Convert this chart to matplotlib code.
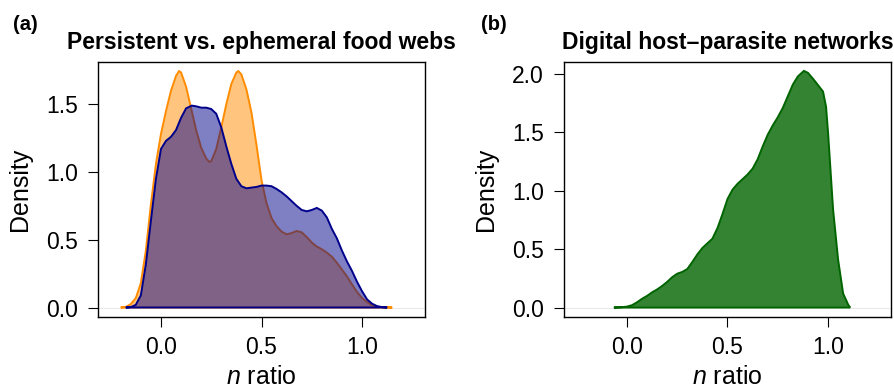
import numpy as np
import matplotlib
matplotlib.use("Agg")
import matplotlib.pyplot as plt
import matplotlib.colors as mcolors

plt.rcParams['font.family'] = ['Liberation Sans', 'DejaVu Sans']
plt.rcParams['mathtext.fontset'] = 'custom'
plt.rcParams['mathtext.it'] = 'Liberation Sans:italic'
plt.rcParams['mathtext.rm'] = 'Liberation Sans'

# ==========================================
# DATA
# ==========================================
# (a) two overlaid densities
A_X = [-0.20, -0.175, -0.15, -0.125, -0.10, -0.075, -0.05, -0.025, 0.0, 0.025,
       0.05, 0.075, 0.09, 0.10, 0.125, 0.15, 0.175, 0.20, 0.225, 0.24,
       0.25, 0.275, 0.30, 0.325, 0.35, 0.375, 0.385, 0.40, 0.425, 0.45,
       0.475, 0.50, 0.525, 0.55, 0.575, 0.60, 0.625, 0.65, 0.675, 0.70,
       0.725, 0.75, 0.775, 0.80, 0.825, 0.85, 0.875, 0.90, 0.925, 0.95,
       0.975, 1.00, 1.025, 1.05, 1.075, 1.10, 1.125, 1.15]
ORANGE_Y = [0.0, 0.004, 0.025, 0.07, 0.18, 0.42, 0.76, 1.06, 1.28, 1.45,
            1.60, 1.71, 1.745, 1.735, 1.63, 1.47, 1.31, 1.18, 1.10, 1.075,
            1.08, 1.17, 1.33, 1.50, 1.65, 1.735, 1.745, 1.72, 1.61, 1.44,
            1.20, 0.94, 0.77, 0.66, 0.60, 0.56, 0.54, 0.55, 0.565, 0.555,
            0.52, 0.48, 0.45, 0.43, 0.405, 0.375, 0.33, 0.28, 0.23, 0.17,
            0.115, 0.07, 0.04, 0.016, 0.006, 0.002, 0.001, 0.0]

B_X = [-0.175, -0.15, -0.125, -0.10, -0.075, -0.05, -0.025, 0.0, 0.025, 0.05,
       0.075, 0.10, 0.125, 0.153, 0.175, 0.20, 0.225, 0.25, 0.275, 0.30,
       0.325, 0.35, 0.375, 0.40, 0.425, 0.45, 0.475, 0.50, 0.525, 0.55,
       0.575, 0.60, 0.625, 0.65, 0.675, 0.70, 0.725, 0.75, 0.775, 0.80,
       0.825, 0.85, 0.875, 0.90, 0.925, 0.95, 0.975, 1.00, 1.025, 1.05,
       1.075, 1.10, 1.125]
BLUE_Y = [0.0, 0.003, 0.02, 0.09, 0.32, 0.64, 0.95, 1.17, 1.23, 1.26,
          1.31, 1.40, 1.47, 1.49, 1.485, 1.475, 1.475, 1.465, 1.43, 1.33,
          1.19, 1.06, 0.95, 0.895, 0.88, 0.885, 0.89, 0.90, 0.90, 0.895,
          0.875, 0.85, 0.82, 0.785, 0.75, 0.72, 0.71, 0.72, 0.735, 0.715,
          0.665, 0.58, 0.51, 0.42, 0.34, 0.27, 0.19, 0.12, 0.06, 0.028,
          0.01, 0.003, 0.0]

# (b) single density
C_X = [-0.065, -0.05, -0.025, 0.0, 0.025, 0.05, 0.075, 0.10, 0.125, 0.15,
       0.175, 0.20, 0.225, 0.25, 0.275, 0.30, 0.325, 0.35, 0.375, 0.40,
       0.425, 0.45, 0.475, 0.50, 0.525, 0.55, 0.575, 0.60, 0.625, 0.65,
       0.675, 0.70, 0.725, 0.75, 0.775, 0.80, 0.825, 0.85, 0.88, 0.90,
       0.925, 0.95, 0.975, 0.99, 1.00, 1.025, 1.05, 1.075, 1.10, 1.11]
GREEN_Y = [0.0, 0.001, 0.003, 0.008, 0.02, 0.045, 0.075, 0.10, 0.13, 0.155,
           0.185, 0.22, 0.26, 0.29, 0.305, 0.33, 0.39, 0.455, 0.51, 0.55,
           0.59, 0.68, 0.80, 0.93, 1.01, 1.06, 1.10, 1.14, 1.19, 1.27,
           1.38, 1.48, 1.56, 1.63, 1.71, 1.81, 1.91, 1.98, 2.027, 2.01,
           1.96, 1.905, 1.85, 1.72, 1.50, 0.84, 0.41, 0.12, 0.025, 0.0]

A_YTICKS = [0.0, 0.5, 1.0, 1.5]
B_YTICKS = [0.0, 0.5, 1.0, 1.5, 2.0]
XTICKS = [0.0, 0.5, 1.0]

TITLES = ["Persistent vs. ephemeral food webs", "Digital host\u2013parasite networks"]
LETTERS = ["(a)", "(b)"]

W, H = 895, 389
fig = plt.figure(figsize=(W / 100, H / 100), dpi=100)

ax_a = fig.add_axes([98 / W, 1 - 317 / H, 327 / W, 255 / H])
ax_b = fig.add_axes([564 / W, 1 - 317 / H, 327 / W, 255 / H])


def poly(ax, x, y, color, alpha):
    # closed polygon like R's polygon(): filled, outlined along the base too
    xs = np.concatenate([x, [x[-1], x[0]]])
    ys = np.concatenate([y, [0.0, 0.0]])
    ax.fill(xs, ys, facecolor=mcolors.to_rgba(color, alpha),
            edgecolor=color, linewidth=1.4, zorder=2)


poly(ax_a, np.array(A_X), np.array(ORANGE_Y), 'darkorange', 0.5)
poly(ax_a, np.array(B_X), np.array(BLUE_Y), 'darkblue', 0.5)
poly(ax_b, np.array(C_X), np.array(GREEN_Y), 'darkgreen', 0.8)

ax_a.set_ylim(-0.07, 1.812)
ax_b.set_ylim(-0.081, 2.103)
ax_a.set_yticks(A_YTICKS)
ax_b.set_yticks(B_YTICKS)

for ax, title in zip([ax_a, ax_b], TITLES):
    ax.set_xlim(-0.313, 1.313)
    ax.set_xticks(XTICKS)
    ax.xaxis.set_major_formatter(matplotlib.ticker.FormatStrFormatter('%.1f'))
    ax.yaxis.set_major_formatter(matplotlib.ticker.FormatStrFormatter('%.1f'))
    ax.tick_params(axis='both', length=7.5, width=0.8, labelsize=16.5, direction='out')
    ax.tick_params(axis='x', pad=6)
    ax.tick_params(axis='y', pad=7)
    for sp in ax.spines.values():
        sp.set_linewidth(1.0)
    ax.axhline(0, color='#e4e4e4', linewidth=0.6, zorder=1)

    bb = ax.get_position()
    cx = (bb.x0 + bb.x1) / 2
    fig.text(cx, 1 - 42 / H, title, ha='center', va='center',
             fontsize=16.5, fontweight='bold')
    fig.text(cx, 5 / H, r'$n$ ratio', ha='center', va='baseline', fontsize=18)
    fig.text(bb.x0 - 78 / W, (bb.y0 + bb.y1) / 2, 'Density', ha='center',
             va='center', rotation=90, fontsize=18)

fig.text(13 / W, 1 - 25 / H, LETTERS[0], ha='left', va='center',
         fontsize=14.5, fontweight='bold')
fig.text(481 / W, 1 - 25 / H, LETTERS[1], ha='left', va='center',
         fontsize=14.5, fontweight='bold')

fig.savefig('out.png', dpi=100)
